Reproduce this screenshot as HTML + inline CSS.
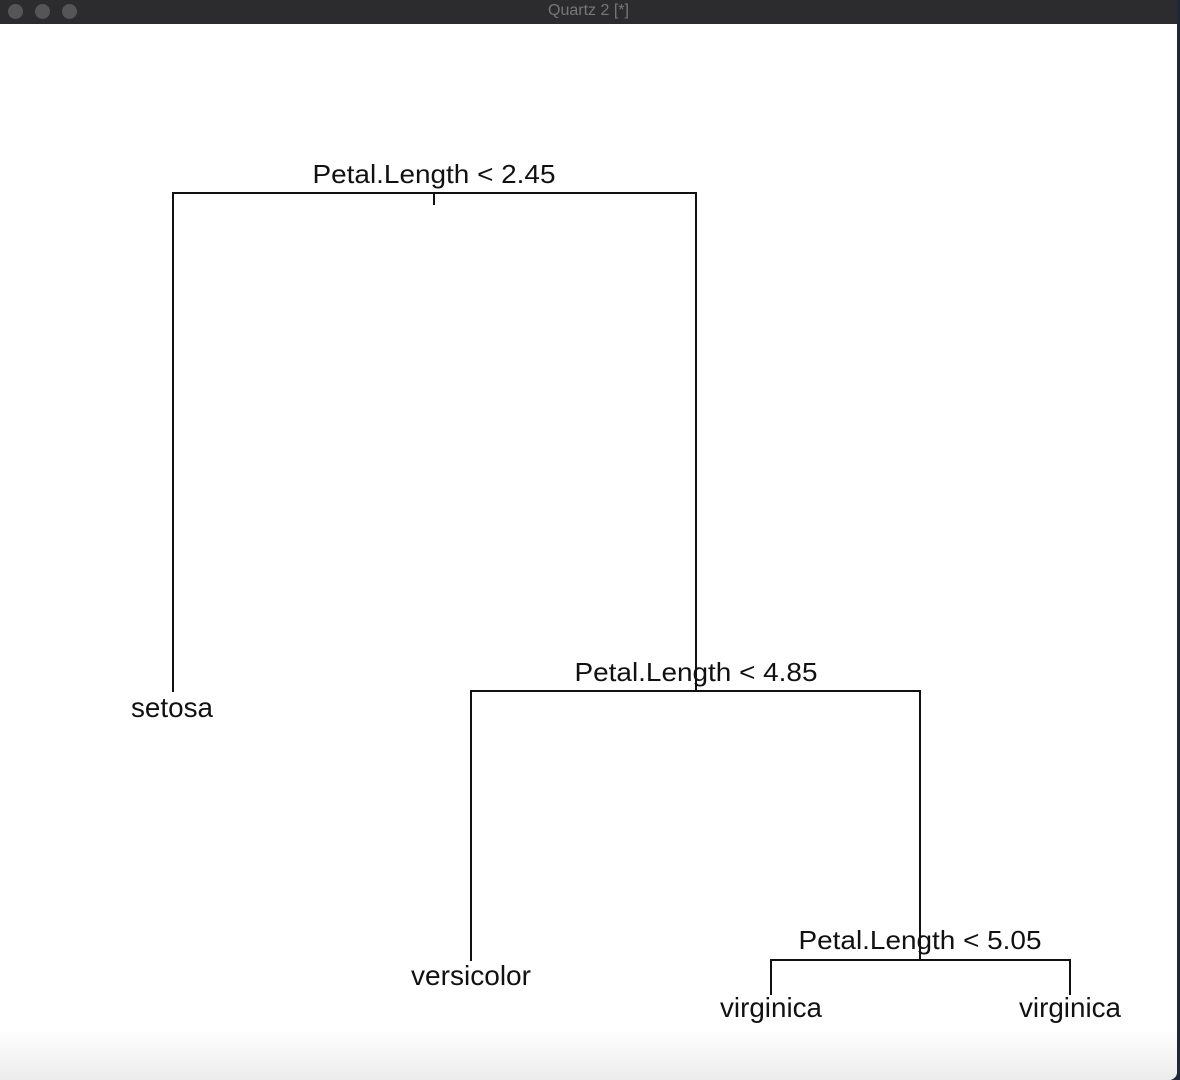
<!DOCTYPE html>
<html><head><meta charset="utf-8"><style>
html,body{margin:0;padding:0;width:1180px;height:1080px;overflow:hidden;background:#1b2840;}
#win{position:absolute;left:0;top:0;width:1177px;height:1080px;background:#fff;border-bottom-right-radius:8px;overflow:hidden;}
#bar{position:absolute;left:0;top:0;width:1177px;height:24px;background:#2c2c2e;}
.dot{position:absolute;top:4px;width:15px;height:15px;border-radius:50%;background:#555558;}
#title{position:absolute;left:0;width:1177px;top:2px;text-align:center;color:#77777a;font:16px "Liberation Sans",sans-serif;}
#fade{position:absolute;left:0;bottom:0;width:1177px;height:50px;background:linear-gradient(#fff,#ececec);}
svg{position:absolute;left:0;top:0;}
text{font-family:"Liberation Sans",sans-serif;font-size:26px;fill:#111;}
text.leaf{font-size:28px;}
</style></head><body>
<div id="win">
<div id="bar"><div class="dot" style="left:8px"></div><div class="dot" style="left:35px"></div><div class="dot" style="left:62px"></div><div id="title">Quartz 2 [*]</div></div>
<div id="fade"></div>
<svg width="1177" height="1080">
<g stroke="#111" stroke-width="2" fill="none">
<path d="M173 692 V193 H696 V691"/>
<path d="M434 193 V205"/>
<path d="M471 961 V691 H920 V960"/>
<path d="M771 995 V960 H1070 V995"/>
</g>
<text x="434" y="183" text-anchor="middle" textLength="243" lengthAdjust="spacingAndGlyphs">Petal.Length &lt; 2.45</text>
<text x="696" y="681" text-anchor="middle" textLength="243" lengthAdjust="spacingAndGlyphs">Petal.Length &lt; 4.85</text>
<text x="920" y="949" text-anchor="middle" textLength="243" lengthAdjust="spacingAndGlyphs">Petal.Length &lt; 5.05</text>
<text class="leaf" x="172" y="717" text-anchor="middle" textLength="82" lengthAdjust="spacingAndGlyphs">setosa</text>
<text class="leaf" x="471" y="985" text-anchor="middle" textLength="120" lengthAdjust="spacingAndGlyphs">versicolor</text>
<text class="leaf" x="771" y="1017" text-anchor="middle" textLength="102" lengthAdjust="spacingAndGlyphs">virginica</text>
<text class="leaf" x="1070" y="1017" text-anchor="middle" textLength="102" lengthAdjust="spacingAndGlyphs">virginica</text>
</svg>
</div>
</body></html>
